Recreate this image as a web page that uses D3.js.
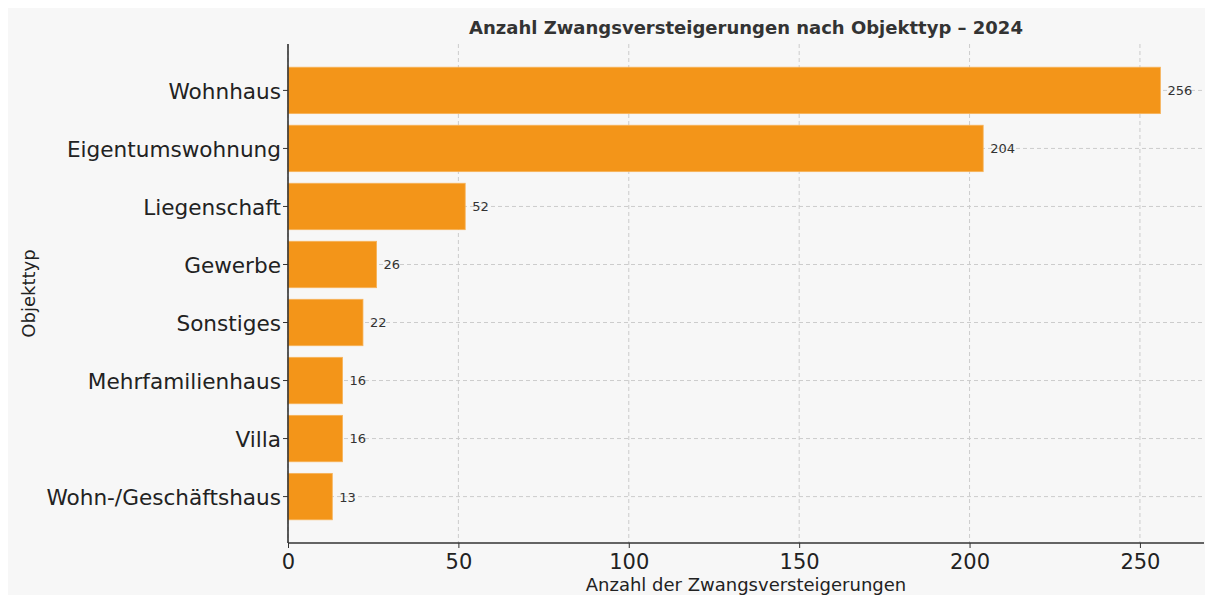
<!DOCTYPE html>
<html><head><meta charset="utf-8">
<script src="https://cdn.jsdelivr.net/npm/d3@7"></script>
<style>
html,body{margin:0;padding:0;background:#fff;}
svg{display:block;font-family:"DejaVu Sans",sans-serif;}
</style></head>
<body>
<svg id="chart" width="1213" height="603"></svg>
<script>
const categories = ["Wohnhaus","Eigentumswohnung","Liegenschaft","Gewerbe","Sonstiges","Mehrfamilienhaus","Villa","Wohn-/Geschäftshaus"];
const values = [256,204,52,26,22,16,16,13];
const xTicks = [0,50,100,150,200,250];
const title = "Anzahl Zwangsversteigerungen nach Objekttyp – 2024";
const xLabel = "Anzahl der Zwangsversteigerungen";
const yLabel = "Objekttyp";

const svg = d3.select("#chart");
const W = 1213, H = 603;
const m = {left:288, right:1204, top:44, bottom:543};

svg.append("rect").attr("x",8).attr("y",8).attr("width",W-16).attr("height",H-16).attr("fill","#f7f7f7");

const x = d3.scaleLinear().domain([0, d3.max(values)*1.05]).range([m.left, m.right]);
const y = d3.scaleBand().domain(categories).range([m.top, m.bottom]).paddingInner(0.2).paddingOuter(0.4);

// grid
const g = svg.append("g");
g.selectAll(".vg").data(xTicks).join("line")
  .attr("x1",d=>x(d)).attr("x2",d=>x(d)).attr("y1",m.top).attr("y2",m.bottom)
  .attr("stroke","#cccccc").attr("stroke-width",1).attr("stroke-dasharray","4,3");
g.selectAll(".hg").data(categories).join("line")
  .attr("x1",m.left).attr("x2",m.right).attr("y1",d=>y(d)+y.bandwidth()/2).attr("y2",d=>y(d)+y.bandwidth()/2)
  .attr("stroke","#cccccc").attr("stroke-width",1).attr("stroke-dasharray","4,3");

// bars
svg.selectAll(".bar").data(categories).join("rect")
  .attr("x",x(0)).attr("y",d=>y(d)).attr("width",(d,i)=>x(values[i])-x(0)).attr("height",y.bandwidth())
  .attr("fill","#f39519").attr("stroke","#f7b35a").attr("stroke-width",0.8);

// value labels
svg.selectAll(".val").data(categories).join("text")
  .attr("x",(d,i)=>x(values[i])+7).attr("y",d=>y(d)+y.bandwidth()/2)
  .attr("dy","0.38em").attr("font-size",13).attr("fill","#333").text((d,i)=>values[i]);

// axes
const xAxis = svg.append("g").attr("transform",`translate(0,${m.bottom})`)
  .call(d3.axisBottom(x).tickValues(xTicks).tickSize(5).tickPadding(6));
xAxis.select(".domain").attr("stroke","#333").attr("stroke-width",1.6).attr("d",`M${m.left},0H${m.right}`);
xAxis.selectAll(".tick line").attr("stroke","#333").attr("stroke-width",1);
xAxis.selectAll(".tick text").attr("font-size",21).attr("fill","#222").attr("font-family","DejaVu Sans");

const yAxis = svg.append("g").attr("transform",`translate(${m.left},0)`)
  .call(d3.axisLeft(y).tickSize(5).tickPadding(2));
yAxis.select(".domain").attr("stroke","#333").attr("stroke-width",1.6).attr("d",`M0,${m.top}V${m.bottom}`);
yAxis.selectAll(".tick line").attr("stroke","#333").attr("stroke-width",1);
yAxis.selectAll(".tick text").attr("font-size",21.6).attr("fill","#222").attr("font-family","DejaVu Sans").attr("dy","0.4em");

// title & labels
svg.append("text").attr("x",(m.left+m.right)/2).attr("y",34).attr("text-anchor","middle")
  .attr("font-size",18).attr("font-weight","bold").attr("fill","#333").text(title);
svg.append("text").attr("x",(m.left+m.right)/2).attr("y",591).attr("text-anchor","middle")
  .attr("font-size",18).attr("fill","#222").text(xLabel);
svg.append("text").attr("transform",`translate(35,${(m.top+m.bottom)/2}) rotate(-90)`).attr("text-anchor","middle")
  .attr("font-size",18).attr("fill","#222").text(yLabel);
</script>
</body></html>
